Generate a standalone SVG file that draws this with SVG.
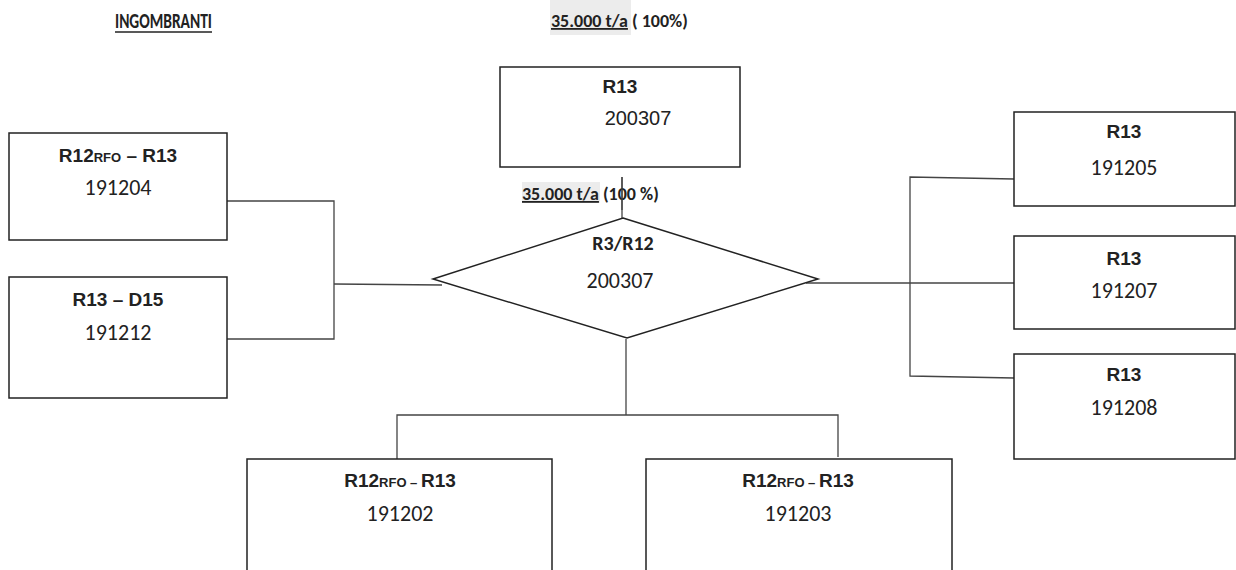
<svg xmlns="http://www.w3.org/2000/svg" width="1236" height="570" viewBox="0 0 1236 570">
<style>
.box{fill:#fff;stroke:#222;stroke-width:1.5}
.con{fill:none;stroke:#444;stroke-width:1.3}
.hd{font-family:"Liberation Sans",Arial,sans-serif;font-weight:bold;font-size:19px;fill:#222;text-anchor:middle}
.ar{font-family:"Liberation Sans",Arial,sans-serif;font-weight:normal;font-size:20px;fill:#222;text-anchor:middle}
.num{font-family:Carlito,Lato,"Liberation Sans",sans-serif;font-size:22px;fill:#222;text-anchor:middle}
.cal{font-family:Carlito,Lato,"Liberation Sans",sans-serif;font-weight:bold;fill:#222}
.sub{font-size:13px}
.hl{fill:#ececec}
</style>
<rect width="1236" height="570" fill="#fff"/>
<g id="title">
<text class="cal" x="115" y="28" font-size="22" textLength="97" lengthAdjust="spacingAndGlyphs">INGOMBRANTI</text>
<line x1="115" y1="32" x2="212" y2="32" stroke="#222" stroke-width="1.5"/>
</g>
<g id="label-top">
<rect class="hl" x="550" y="0" width="81" height="35"/>
<text class="cal" x="551" y="27" font-size="18"><tspan text-decoration="underline">35.000 t/a</tspan> ( 100%)</text>
</g>
<g id="connectors">
<line class="con" x1="622" y1="177" x2="622" y2="218"/>
<polyline class="con" points="227,201 334,201 334,339 227,339"/>
<line class="con" x1="334" y1="284" x2="442" y2="285"/>
<polyline class="con" points="1014,179 910,177 910,376 1014,378"/>
<line class="con" x1="806" y1="283" x2="1014" y2="283"/>
<line class="con" x1="626" y1="339" x2="626" y2="415"/>
<polyline class="con" points="397,463 397,415 838,415 838,457"/>
</g>
<g id="label-mid">
<rect class="hl" x="522" y="182" width="78" height="21"/>
<text class="cal" x="522" y="200" font-size="18"><tspan text-decoration="underline">35.000 t/a</tspan>  (100 %)</text>
<line class="con" x1="622" y1="177" x2="622" y2="210"/>
</g>
<g id="node-top">
<rect class="box" x="500" y="67" width="240" height="100"/>
<text class="hd" x="620" y="93">R13</text>
<text class="ar" x="638" y="125">200307</text>
</g>
<g id="node-diamond">
<polygon class="box" points="623,218 818,279 627,338 433,279"/>
<text class="cal" x="623" y="250" font-size="20" text-anchor="middle">R3/R12</text>
<text class="num" x="620" y="288" font-size="20">200307</text>
</g>
<g id="node-191204">
<rect class="box" x="9" y="133" width="218" height="107"/>
<text class="hd" x="118" y="162">R12<tspan class="sub">RFO</tspan> – R13</text>
<text class="num" x="118" y="195">191204</text>
</g>
<g id="node-191212">
<rect class="box" x="9" y="277" width="218" height="121"/>
<text class="hd" x="118" y="306">R13 – D15</text>
<text class="num" x="118" y="340">191212</text>
</g>
<g id="node-191205">
<rect class="box" x="1014" y="112" width="221" height="94"/>
<text class="hd" x="1124" y="138">R13</text>
<text class="num" x="1124" y="175">191205</text>
</g>
<g id="node-191207">
<rect class="box" x="1014" y="236" width="221" height="93"/>
<text class="hd" x="1124" y="265">R13</text>
<text class="num" x="1124" y="298">191207</text>
</g>
<g id="node-191208">
<rect class="box" x="1014" y="354" width="221" height="105"/>
<text class="hd" x="1124" y="381">R13</text>
<text class="num" x="1124" y="415">191208</text>
</g>
<g id="node-191202">
<rect class="box" x="247" y="459" width="305" height="130"/>
<text class="hd" x="400" y="487">R12<tspan class="sub">RFO – </tspan>R13</text>
<text class="num" x="400" y="521">191202</text>
</g>
<g id="node-191203">
<rect class="box" x="646" y="459" width="306" height="130"/>
<text class="hd" x="798" y="487">R12<tspan class="sub">RFO – </tspan>R13</text>
<text class="num" x="798" y="521">191203</text>
</g>
</svg>
